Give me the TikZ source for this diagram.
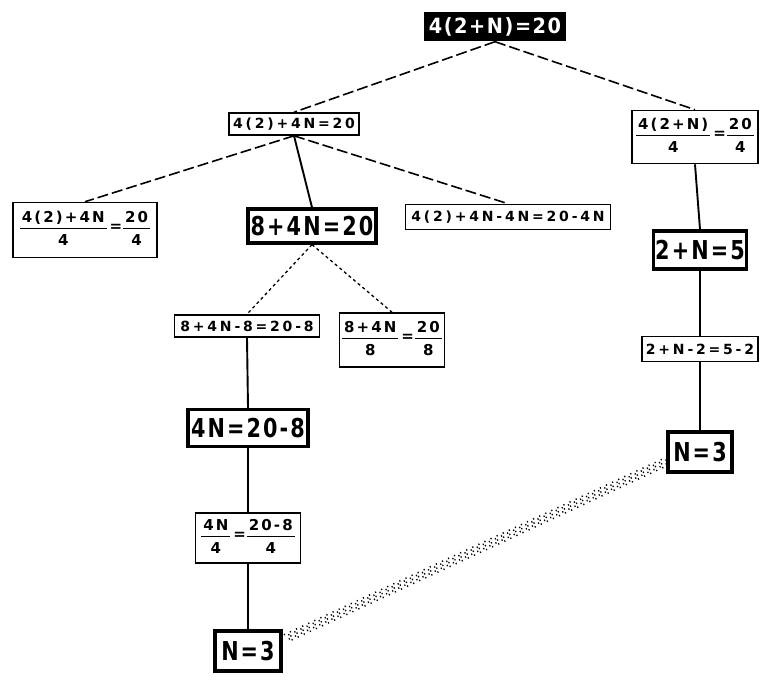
\documentclass[tikz,border=0pt]{standalone}
\usepackage{fontspec}
\setmainfont{DejaVu Sans}
\usepackage{graphicx}
\usetikzlibrary{calc}
\newfontfamily\bigfont{DejaVu Sans}[LetterSpace=10]
\newfontfamily\rootfont{DejaVu Sans}[LetterSpace=8]
\newfontfamily\smfont{DejaVu Sans}[LetterSpace=20]
\newfontfamily\frfont{DejaVu Sans}[LetterSpace=14]
\newcommand\BIG[1]{\scalebox{0.8}[1]{\bigfont\bfseries\fontsize{26}{28}\selectfont #1}}
\newcommand\ROOT[1]{\scalebox{0.92}[1]{\rootfont\bfseries\fontsize{21}{23}\selectfont #1}}
\newcommand\SM[1]{{\smfont\bfseries\fontsize{14}{16}\selectfont #1}}
\newcommand\FRT[1]{{\frfont\bfseries\fontsize{15}{17}\selectfont #1}}
\setlength\arrayrulewidth{1.5pt}
\newcommand\FR[2]{\begin{tabular}[c]{@{\hspace{2pt}}c@{\hspace{2pt}}}\FRT{#1}\\[2pt]\hline\rule{0pt}{16pt}\FRT{#2}\end{tabular}}
\newcommand\EQ{\hspace{3pt}\raisebox{1.5pt}{\FRT{=}}\hspace{1pt}}
\begin{document}
\begin{tikzpicture}[x=1pt,y=-1pt,
  box/.style={draw,line width=1.6pt,inner sep=0pt,align=center},
  boldbox/.style={draw,line width=3.2pt,inner sep=0pt,align=center},
  rootbox/.style={fill=black,text=white,inner sep=0pt},
  dashline/.style={line width=1.6pt,dash pattern=on 11pt off 4pt},
  fineline/.style={line width=1.3pt,dash pattern=on 3pt off 3pt},
  solidline/.style={line width=1.9pt},
  dotband/.style={line width=1.5pt,dash pattern=on 1.2pt off 5.5pt}]
\useasboundingbox (0,0) rectangle (771,698);
% nodes
\node[rootbox,minimum width=142pt,minimum height=29pt] (root) at (495,27) {\ROOT{4(2+N)=20}};
\node[box,minimum width=130pt,minimum height=22pt] (n1) at (294,124) {\SM{4(2)+4N=20}};
\node[box,minimum width=126pt,minimum height=53pt] (n2) at (695,137) {\FR{4(2+N)}{4}\EQ\FR{20}{4}};
\node[box,minimum width=144pt,minimum height=55pt] (lf) at (85,230) {\FR{4(2)+4N}{4}\EQ\FR{20}{4}};
\node[boldbox,minimum width=128pt,minimum height=34pt] (b8) at (312,226) {\BIG{8+4N=20}};
\node[box,minimum width=205pt,minimum height=25pt] (n4) at (508,217) {\SM{4(2)+4N-4N=20-4N}};
\node[box,minimum width=145pt,minimum height=22pt] (s8) at (247,326) {\SM{8+4N-8=20-8}};
\node[box,minimum width=105pt,minimum height=54pt] (f8) at (392,340) {\FR{8+4N}{8}\EQ\FR{20}{8}};
\node[boldbox,minimum width=120pt,minimum height=37pt] (b4) at (248,428) {\BIG{4N=20-8}};
\node[box,minimum width=105pt,minimum height=50pt] (f4) at (248,538) {\FR{4N}{4}\EQ\FR{20-8}{4}};
\node[boldbox,minimum width=66pt,minimum height=40pt] (nl) at (248,651) {\BIG{N=3}};
\node[boldbox,minimum width=93pt,minimum height=38pt] (r5) at (700,250) {\BIG{2+N=5}};
\node[box,minimum width=116pt,minimum height=25pt] (r52) at (700,349) {\SM{2+N-2=5-2}};
\node[boldbox,minimum width=64pt,minimum height=40pt] (nr) at (700,452) {\BIG{N=3}};
% connectors
\draw[dashline] (root.south) -- (n1.north);
\draw[dashline] (root.south) -- (n2.north);
\draw[dashline] (n1.south) -- (lf.north);
\draw[solidline] (n1.south) -- (b8.north);
\draw[dashline] (n1.south) -- (n4.north);
\draw[fineline] (b8.south) -- (s8.north);
\draw[fineline] (b8.south) -- (f8.north);
\draw[solidline] (s8.south) -- (b4.north);
\draw[solidline] (b4.south) -- (f4.north);
\draw[solidline] (f4.south) -- (nl.north);
\draw[solidline] (n2.south) -- (r5.north);
\draw[solidline] (r5.south) -- (r52.north);
\draw[solidline] (r52.south) -- (nr.north);
\coordinate (dA) at ([xshift=3pt,yshift=-9pt]nl.north east);
\coordinate (dB) at ([yshift=12pt]nr.south west);
\foreach \s/\ph in {-2/0,-1/2.8,0/1.4,1/4.1,2/2.0}
  \draw[dotband,dash phase=\ph pt] ($(dA)+(0.85*\s,1.8*\s)$) -- ($(dB)+(0.85*\s,1.8*\s)$);
\end{tikzpicture}
\end{document}
